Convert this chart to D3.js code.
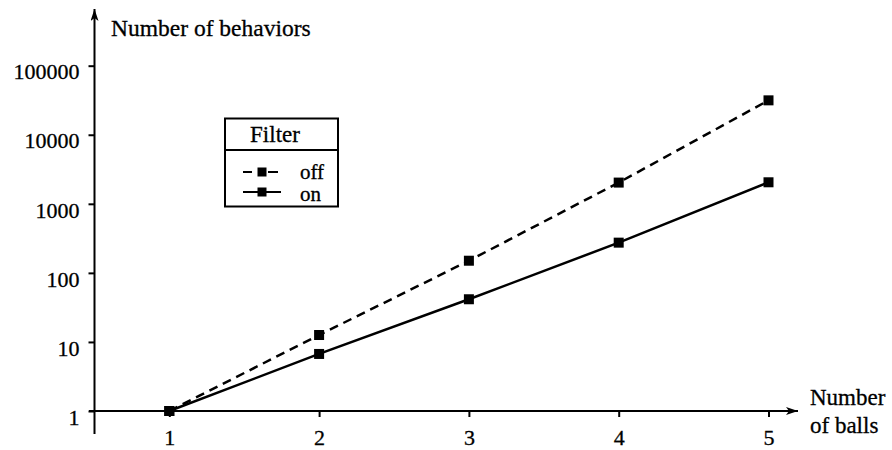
<!DOCTYPE html>
<html>
<head>
<meta charset="utf-8">
<script src="https://cdn.jsdelivr.net/npm/d3@7"></script>
<style>
  body { margin: 0; background: #fff; }
  svg text { font-family: "Liberation Serif", "Times New Roman", serif; fill: #000; }
</style>
</head>
<body>
<svg id="chart" width="892" height="450"></svg>
<script>
// data
var balls = [1, 2, 3, 4, 5];
var filterOff = [1, 12.6, 150, 2030, 31500];
var filterOn = [1, 6.7, 41.5, 274, 2050];
var yTicks = [1, 10, 100, 1000, 10000, 100000];
var series = [
    { name: "off", values: filterOff, dash: "9,6" },
    { name: "on", values: filterOn, dash: null }
];

var serif = "'Liberation Serif', 'Times New Roman', serif";
var svg = d3.select("#chart");

var x = d3.scaleLinear().domain([1, 5]).range([169.3, 768.5]);
var y = d3.scaleLog().domain([1, 100000]).range([411, 65.7]);

var axisX = 94.5;
var axisY = y(1);

// arrow head
svg.append("defs").append("marker")
    .attr("id", "arrow")
    .attr("viewBox", "0 0 12 8")
    .attr("refX", 12)
    .attr("refY", 4)
    .attr("markerWidth", 12)
    .attr("markerHeight", 8)
    .attr("markerUnits", "userSpaceOnUse")
    .attr("orient", "auto")
    .append("path")
    .attr("d", "M0,0 L12,4 L0,8 L3,4 Z")
    .attr("fill", "#000");

// axis lines
svg.append("line")
    .attr("x1", axisX).attr("y1", 434)
    .attr("x2", axisX).attr("y2", 9)
    .attr("stroke", "#000").attr("stroke-width", 2)
    .attr("marker-end", "url(#arrow)");

svg.append("line")
    .attr("x1", 89).attr("y1", axisY)
    .attr("x2", 798).attr("y2", axisY)
    .attr("stroke", "#000").attr("stroke-width", 2)
    .attr("marker-end", "url(#arrow)");

// y ticks
var yAxis = d3.axisLeft(y)
    .tickValues(yTicks)
    .tickFormat(function (d) { return String(d); })
    .tickSize(6)
    .tickPadding(9);

var gy = svg.append("g")
    .attr("transform", "translate(" + axisX + ",0)")
    .call(yAxis);
gy.attr("font-family", serif);
gy.select(".domain").remove();
gy.selectAll(".tick line").attr("stroke", "#000").attr("stroke-width", 2);
gy.selectAll(".tick text")
    .attr("font-size", 22)
    .attr("dy", "0.6em")
    .attr("stroke", "#000").attr("stroke-width", 0.3)
    .attr("font-family", serif);

// x ticks
var xAxis = d3.axisBottom(x)
    .tickValues(balls)
    .tickFormat(d3.format("d"))
    .tickSize(6)
    .tickPadding(12);

var gx = svg.append("g")
    .attr("transform", "translate(0," + axisY + ")")
    .call(xAxis);
gx.attr("font-family", serif);
gx.select(".domain").remove();
gx.selectAll(".tick line").attr("stroke", "#000").attr("stroke-width", 2);
gx.selectAll(".tick text")
    .attr("font-size", 22)
    .attr("stroke", "#000").attr("stroke-width", 0.3)
    .attr("font-family", serif);

// axis titles
function label(tx, ty, size, str) {
    return svg.append("text")
        .attr("x", tx).attr("y", ty)
        .attr("font-family", serif)
        .attr("font-size", size)
        .attr("stroke", "#000").attr("stroke-width", 0.3)
        .text(str);
}
label(111, 36, 23.5, "Number of behaviors");
label(810, 405, 23, "Number");
label(810, 433, 23, "of balls");

// lines
var line = d3.line()
    .x(function (d, i) { return x(balls[i]); })
    .y(function (d) { return y(d); });

series.forEach(function (s) {
    svg.append("path")
        .datum(s.values)
        .attr("d", line)
        .attr("fill", "none")
        .attr("stroke", "#000")
        .attr("stroke-width", 2.5)
        .attr("stroke-dasharray", s.dash);

    svg.selectAll(".pt-" + s.name)
        .data(s.values)
        .enter()
        .append("rect")
        .attr("class", "pt-" + s.name)
        .attr("x", function (d, i) { return x(balls[i]) - 5; })
        .attr("y", function (d) { return y(d) - 5; })
        .attr("width", 10)
        .attr("height", 10)
        .attr("fill", "#000");
});

// legend
var legend = svg.append("g");
legend.append("rect")
    .attr("x", 225).attr("y", 118.5)
    .attr("width", 113).attr("height", 88)
    .attr("fill", "#fff")
    .attr("stroke", "#000").attr("stroke-width", 2);
legend.append("line")
    .attr("x1", 225).attr("x2", 338)
    .attr("y1", 150).attr("y2", 150)
    .attr("stroke", "#000").attr("stroke-width", 2);
legend.append("text")
    .attr("x", 275).attr("y", 142)
    .attr("text-anchor", "middle")
    .attr("font-family", serif)
    .attr("font-size", 23)
    .attr("stroke", "#000").attr("stroke-width", 0.3)
    .text("Filter");

var legendRows = [
    { label: "off", y: 172, ty: 179, dash: "9,16,10,10" },
    { label: "on", y: 192, ty: 201, dash: null }
];
legendRows.forEach(function (r) {
    legend.append("line")
        .attr("x1", 243).attr("x2", 281)
        .attr("y1", r.y).attr("y2", r.y)
        .attr("stroke", "#000").attr("stroke-width", 2)
        .attr("stroke-dasharray", r.dash);
    legend.append("rect")
        .attr("x", 257.5).attr("y", r.y - 4.5)
        .attr("width", 9).attr("height", 9)
        .attr("fill", "#000");
    legend.append("text")
        .attr("x", 300).attr("y", r.ty)
        .attr("font-family", serif)
        .attr("font-size", 21)
        .attr("stroke", "#000").attr("stroke-width", 0.3)
        .text(r.label);
});
</script>
</body>
</html>
